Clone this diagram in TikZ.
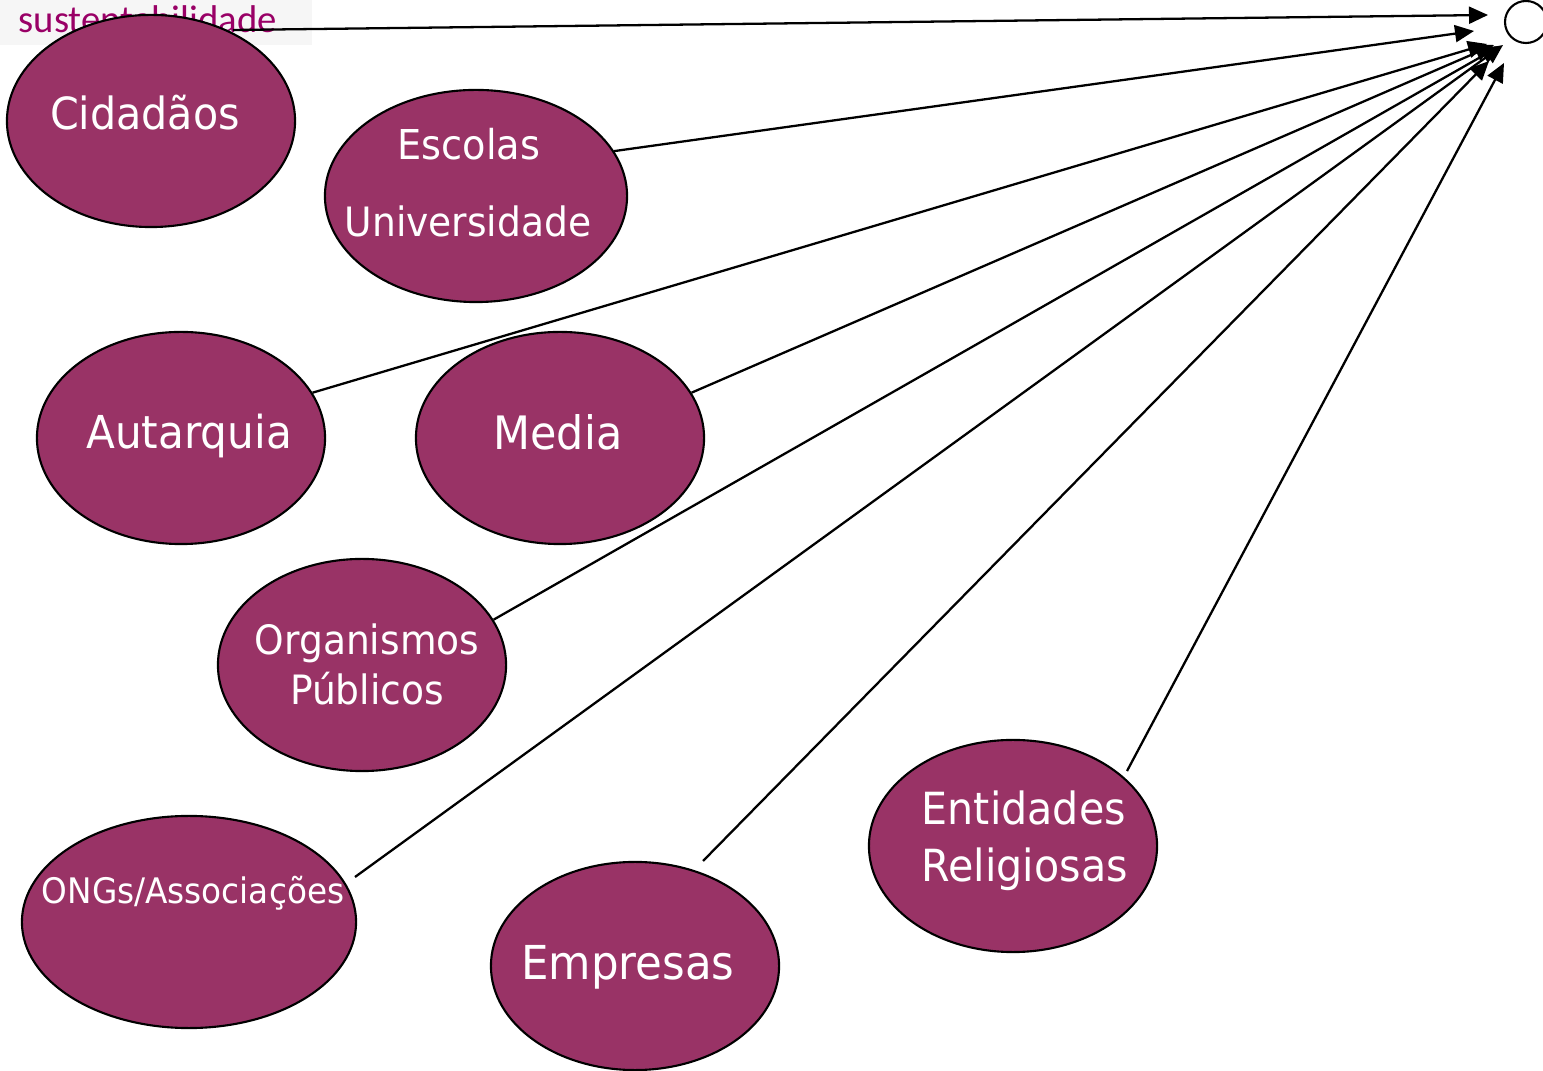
\documentclass[tikz,border=0pt]{standalone}
\usepackage{fontspec}
\setmainfont{DejaVu Sans}[FakeStretch=0.93]
\newfontfamily\notafont{Carlito}
\usetikzlibrary{shapes.geometric,arrows.meta}
\definecolor{ameixa}{RGB}{153,51,102}
\definecolor{notacor}{RGB}{153,0,102}
\definecolor{fundo}{RGB}{246,246,246}

\begin{document}
\begin{tikzpicture}[x=0.01cm,y=-0.01cm,
  actor/.style={ellipse,draw,line width=0.6pt,fill=ameixa,
    minimum width=2.88cm,minimum height=2.12cm,inner sep=0pt},
  rotulo/.style={text=white,anchor=base,inner sep=0pt},
  seta/.style={line width=0.65pt,-{Triangle[length=1.9mm,width=1.7mm]}}]
  \useasboundingbox (0,0) rectangle (1543,1071);

  % nota cortada no topo
  \fill[fundo] (0,0) rectangle (312,45);
  \node[anchor=base west,inner sep=0pt,text=notacor,font=\notafont\fontsize{11}{12}\selectfont]
    (nota) at (18,33) {sustentabilidade};

  % alvo e pontas das setas
  \node[circle,draw,line width=0.6pt,minimum size=0.42cm,inner sep=0pt] (alvo) at (1526,22) {};
  \coordinate (ini) at (233,30);
  \coordinate (s6) at (355,877);
  \coordinate (s7) at (703,861);
  \coordinate (s8) at (1127,771);
  \coordinate (t1) at (1488,15);
  \coordinate (t2) at (1474,31);
  \coordinate (t3) at (1487,44);
  \coordinate (t4) at (1494,45);
  \coordinate (t5) at (1500,46);
  \coordinate (t6) at (1503,45);
  \coordinate (t7) at (1489,61);
  \coordinate (t8) at (1504,63);

  % actores
  \node[actor] (cid) at (151,121) {};
  \node[actor,minimum width=3.02cm] (esc) at (476,196) {};
  \node[actor] (aut) at (181,438) {};
  \node[actor] (med) at (560,438) {};
  \node[actor] (org) at (362,665) {};
  \node[actor,minimum width=3.34cm] (ong) at (189,922) {};
  \node[actor,minimum height=2.08cm] (emp) at (635,966) {};
  \node[actor] (ent) at (1013,846) {};

  \node[rotulo,font=\fontsize{12.6}{14}\selectfont] (cidT) at (145,130) {Cidadãos};
  \node[rotulo,font=\fontsize{11.7}{14}\selectfont] (escA) at (469,160) {Escolas};
  \node[rotulo,font=\fontsize{11.5}{14}\selectfont] (escB) at (468,237) {Universidade};
  \node[rotulo,font=\fontsize{12.9}{16}\selectfont] (autT) at (189,449) {Autarquia};
  \node[rotulo,font=\fontsize{13.1}{16}\selectfont] (medT) at (558,450) {Media};
  \node[rotulo,font=\fontsize{11.5}{14}\selectfont] (orgA) at (367,655) {Organismos};
  \node[rotulo,font=\fontsize{11.5}{14}\selectfont] (orgB) at (367,705) {Públicos};
  \node[rotulo,font=\fontsize{10}{12}\selectfont] (ongT) at (193,903) {ONGs/Associações};
  \node[rotulo,font=\fontsize{13.3}{16}\selectfont] (empT) at (628,979) {Empresas};
  \node[rotulo,anchor=base west,font=\fontsize{12.6}{15}\selectfont] (entA) at (921,825) {Entidades};
  \node[rotulo,anchor=base west,font=\fontsize{12.6}{15}\selectfont] (entB) at (921,882) {Religiosas};

  % setas para o alvo
  \draw[seta] (ini) -- (t1);
  \draw[seta] (esc.18) -- (t2);
  \draw[seta] (aut.19.5) -- (t3);
  \draw[seta] (med.19.5) -- (t4);
  \draw[seta] (org.19.7) -- (t5);
  \draw[seta] (s6) -- (t6);
  \draw[seta] (s7) -- (t7);
  \draw[seta] (s8) -- (t8);
\end{tikzpicture}
\end{document}
